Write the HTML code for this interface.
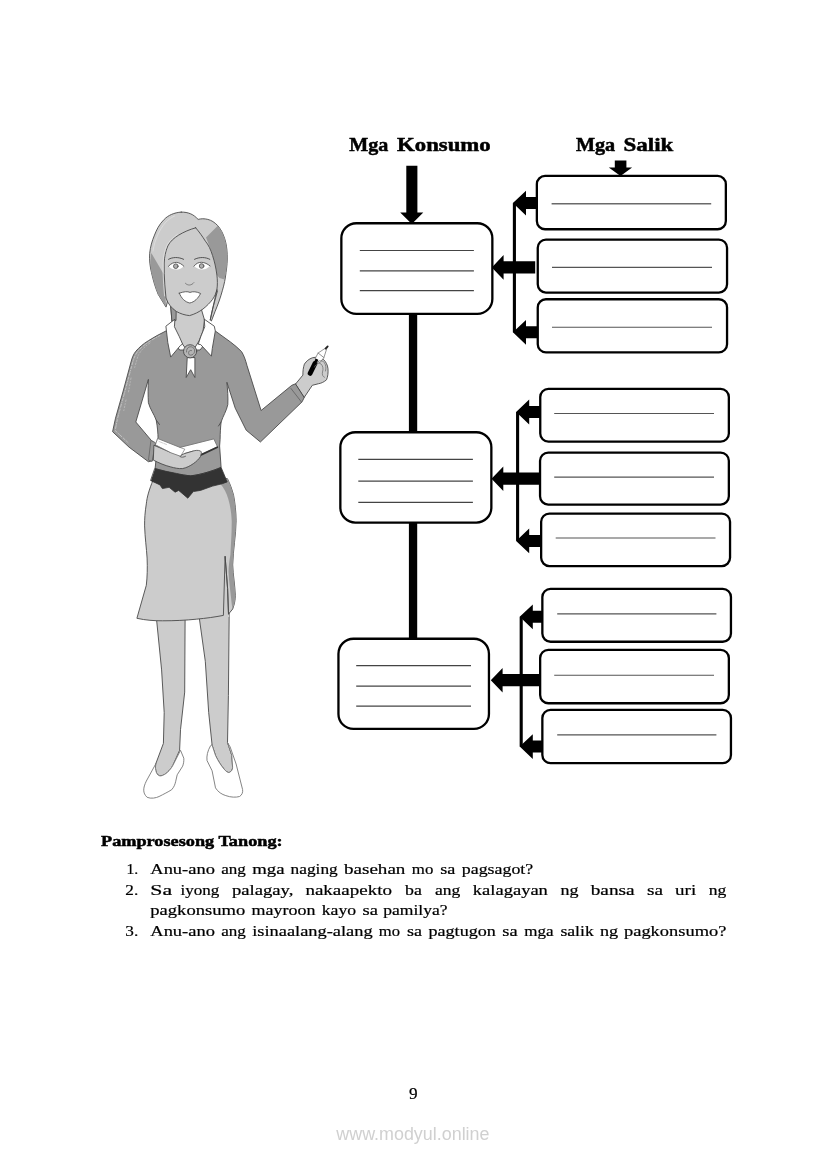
<!DOCTYPE html>
<html><head><meta charset="utf-8"><title>Page 9</title>
<style>html,body{margin:0;padding:0;background:#fff;}body{width:826px;height:1169px;overflow:hidden;font-family:"Liberation Serif",serif;}svg{display:block;will-change:transform;}text{font-family:"Liberation Serif",serif;fill:#000;stroke:#000;stroke-width:0.22px;}.b{stroke-width:0.5px;}.b{font-weight:bold;}.ws{font-family:"Liberation Sans",sans-serif;fill:#d0d0d0;stroke:none;}</style>
</head><body>
<svg width="826" height="1169" viewBox="0 0 826 1169">
<rect width="826" height="1169" fill="#fff"/>
<text x="349.3" y="150.9" font-size="19.4" textLength="39.1" lengthAdjust="spacingAndGlyphs" class="b">Mga</text>
<text x="397.1" y="150.9" font-size="19.4" textLength="93.6" lengthAdjust="spacingAndGlyphs" class="b">Konsumo</text>
<text x="575.9" y="150.9" font-size="19.4" textLength="39.3" lengthAdjust="spacingAndGlyphs" class="b">Mga</text>
<text x="623.5" y="150.9" font-size="19.4" textLength="49.8" lengthAdjust="spacingAndGlyphs" class="b">Salik</text>
<g id="diagram" fill="#000" stroke="none">
<rect x="408.9" y="300" width="8.3" height="341"/>
<polygon points="406.3,165.7 417.4,165.7 417.4,212.6 423.3,212.6 411.8,224 400.2,212.6 406.3,212.6"/>
<polygon points="614.8,160.4 626.4,160.4 626.4,167.6 632.1,167.6 620.5,176 608.8,167.6 614.8,167.6"/>
<rect x="512.85" y="203.1" width="3.1" height="129.2"/>
<polygon points="512.9,203.1 526.0,190.7 526.0,197.1 536.7,197.1 536.7,209.1 526.0,209.1 526.0,215.5"/>
<polygon points="491.8,267.4 503.6,255.1 503.6,261.3 535.2,261.3 535.2,273.5 503.6,273.5 503.6,279.7"/>
<polygon points="512.9,332.3 526.0,319.9 526.0,326.3 537.6,326.3 537.6,338.3 526.0,338.3 526.0,344.7"/>
<rect x="516.05" y="412.0" width="3.1" height="128.9"/>
<polygon points="516.1,412.0 529.2,399.6 529.2,406.0 540.1,406.0 540.1,418.0 529.2,418.0 529.2,424.4"/>
<polygon points="491.5,478.7 503.3,466.4 503.3,472.6 539.4,472.6 539.4,484.8 503.3,484.8 503.3,491.0"/>
<polygon points="516.1,540.9 529.2,528.5 529.2,534.9 541.0,534.9 541.0,546.9 529.2,546.9 529.2,553.3"/>
<rect x="519.65" y="616.8" width="3.1" height="129.8"/>
<polygon points="519.7,616.8 532.8,604.4 532.8,610.8 542.2,610.8 542.2,622.8 532.8,622.8 532.8,629.2"/>
<polygon points="490.8,680.2 502.6,667.9 502.6,674.1 539.5,674.1 539.5,686.3 502.6,686.3 502.6,692.5"/>
<polygon points="519.7,746.6 532.8,734.2 532.8,740.6 542.2,740.6 542.2,752.6 532.8,752.6 532.8,759.0"/>
</g>
<g id="boxes" fill="#fff" stroke="#000" stroke-width="2.3">
<rect x="341.35" y="223.25" width="151.00" height="90.70" rx="15" ry="15"/>
<rect x="340.35" y="432.25" width="151.00" height="90.30" rx="15" ry="15"/>
<rect x="338.45" y="638.75" width="150.50" height="90.20" rx="15" ry="15"/>
<rect x="536.85" y="175.95" width="189.00" height="53.30" rx="8.2" ry="8.2"/>
<rect x="537.75" y="239.55" width="189.30" height="53.00" rx="8.2" ry="8.2"/>
<rect x="537.75" y="299.25" width="189.30" height="53.10" rx="8.2" ry="8.2"/>
<rect x="540.25" y="388.85" width="188.60" height="52.80" rx="8.2" ry="8.2"/>
<rect x="540.05" y="452.65" width="188.80" height="51.90" rx="8.2" ry="8.2"/>
<rect x="541.15" y="513.65" width="188.90" height="52.40" rx="8.2" ry="8.2"/>
<rect x="542.35" y="588.85" width="188.60" height="52.90" rx="8.2" ry="8.2"/>
<rect x="540.15" y="649.85" width="188.70" height="53.40" rx="8.2" ry="8.2"/>
<rect x="542.35" y="709.85" width="188.60" height="53.30" rx="8.2" ry="8.2"/>
</g>
<g id="blanks" stroke="#444" stroke-width="1.2" fill="none">
<line x1="359.8" y1="250.5" x2="473.9" y2="250.5"/>
<line x1="359.8" y1="270.8" x2="473.9" y2="270.8"/>
<line x1="359.8" y1="290.7" x2="473.9" y2="290.7"/>
<line x1="358.3" y1="459.4" x2="472.9" y2="459.4"/>
<line x1="358.3" y1="481.2" x2="472.9" y2="481.2"/>
<line x1="358.3" y1="502.3" x2="472.9" y2="502.3"/>
<line x1="356.2" y1="665.7" x2="471.0" y2="665.7"/>
<line x1="356.2" y1="686.2" x2="471.0" y2="686.2"/>
<line x1="356.2" y1="706.2" x2="471.0" y2="706.2"/>
</g><g stroke="#6a6a6a" stroke-width="1.4" fill="none">
<line x1="551.6" y1="203.8" x2="711.2" y2="203.8"/>
</g><g stroke="#555" stroke-width="1.15" fill="none">
<line x1="552.0" y1="267.3" x2="712.0" y2="267.3"/>
<line x1="552.0" y1="327.2" x2="712.0" y2="327.2"/>
<line x1="554.2" y1="413.5" x2="714.0" y2="413.5"/>
<line x1="554.2" y1="477.1" x2="714.0" y2="477.1"/>
<line x1="555.7" y1="538.0" x2="715.5" y2="538.0"/>
<line x1="557.2" y1="613.9" x2="716.4" y2="613.9"/>
<line x1="554.2" y1="675.2" x2="714.0" y2="675.2"/>
<line x1="557.2" y1="734.8" x2="716.4" y2="734.8"/>
</g>
<g id="woman" stroke="#4a4a4a" stroke-width="0.9" stroke-linejoin="round" stroke-linecap="round">
<!-- legs -->
<path d="M156.5,619 L161.6,669.9 L164.2,712.6 L163.4,743.4 L155.7,764 C154.8,770 156.5,776.2 160.8,775.9 C165.5,775 170,770.5 172.8,765.5 L179.6,750.3 L180.5,729.7 L184.7,692.1 L185.1,619 Z" fill="#cccccc"/>
<path d="M199.3,618 L205.3,661.3 L208.7,712.6 L212.1,745.1 L215.5,755.4 C218,761 221.5,766 224.1,769.1 C226,771.5 228,772.8 229.2,772.5 C231.5,771.5 232.6,769.5 232.6,767.4 L231.8,755.4 L227.5,742.6 L228.4,695.5 L229.2,612 Z" fill="#cccccc"/>
<!-- shoes -->
<path d="M155.7,764 L146.3,781.1 C143,788 142.5,793 147.1,797.3 C151,799 156,798 159.1,796.5 C164,794 168,792 171.7,789.7 C174,787 175,784.5 175.6,781.8 L177.2,774.8 L182.7,766.1 C183.6,763.5 184,761 183.8,758.2 L180.5,750.3 L172.8,765.5 C170,770.5 165.5,775 160.8,775.9 C156.5,776.2 154.8,770 155.7,764 Z" fill="#fff" stroke="#777"/>
<path d="M210.4,746 C207.5,751 206.5,756 207,760.5 L212.1,770.8 L215.5,787.9 C218,792 222,794.5 225.8,795.6 C231,797.5 236,797.5 239.5,796.5 C242,795 243,792.5 242.6,789.6 L236.1,764 L230.1,746.8 L227.5,742.6 L231.8,755.4 L232.6,767.4 C232.6,769.5 231.5,771.5 229.2,772.5 C228,772.8 226,771.5 224.1,769.1 C221.5,766 218,761 215.5,755.4 L212.1,745.1 Z" fill="#fff" stroke="#777"/>
<path d="M224.7,557 L222.5,617 L229.2,617 L229,600 Z" fill="#cccccc" stroke="none"/>
<!-- skirt -->
<path d="M153.1,480 C149,490 147,497 146.3,503.9 C145,512 144.5,519 144.6,525.9 C145,538 146.5,548 147.1,558.1 C147.5,568 147.3,577 146.3,585.3 L136.9,618.3 C146,620.3 154,620.8 162.4,620.8 C174,620.8 186,620.3 196.3,619.2 C206,618.3 215,617 223.4,615.4 L225.1,556.4 L227.6,588.6 L228.5,614.1 L232.7,609 C234.5,604 235.3,600 235.3,595.4 C235,585 233,575 232.7,564.9 C233,550 236,535 236.1,520.8 C236,511 235,503 233.6,495.4 C232,489 230,484 227.6,479 Z" fill="#cccccc"/>
<path d="M220.5,484 C224,488 226.5,493 228.2,498.8 C230.3,506 231.4,513 231.7,520.8 C231.8,532 231,543 230.4,554.7 C229.4,560 228.7,566 228.5,571.7 C229,583 230.8,594 231.9,605.6 L232.7,609 C234.5,604 235.3,600 235.3,595.4 C235,585 233,575 232.7,564.9 C233,550 236,535 236.1,520.8 C236,511 235,503 233.6,495.4 C232,489 230,484 227.6,479 Z" fill="#999999" stroke="none"/>
<path d="M225.1,556.4 L227.6,588.6 L228.5,614.1" fill="none"/>
<!-- neck -->
<path d="M170.5,303 L172,322 L176,334 L181,342 L186,349 L194,349 L199,341 L203,331 L204.5,320 L201,308 Z" fill="#cccccc"/>
<path d="M170.9,305 L176.3,306 L176,320.5 L172.3,321 Z" fill="#999999"/>
<!-- sweater -->
<path d="M165.9,331 C160,334 154,337 148.4,340.7 C143,344 139,347.5 135.8,351.3 C133.5,354 132,358 131,362 L123.2,391 L115.5,418.2 L112.6,431.7 L129.1,447.2 L148.4,461.7 L152.3,460.8 L156.2,444.3 L151.3,440.4 L135.8,422 L148.4,379.4 C148,388 148,396 148.4,402.7 C150,409 154,414 156.2,420.1 C157.5,427 158,433 158.1,439.5 L155.1,468.6 C165,471.5 178,475 190.8,475.8 C200,475 212,471 221.1,467.4 L219.6,446 L220.1,439.5 C220.2,433 220.5,427 221.1,422 C223,416 226.5,411 227.8,404.6 C228.2,397 227.6,390 226.9,382.3 L235.2,408.1 L246.2,430.2 L260.4,442 L302.1,401.8 L304.4,397.1 L295.8,383.7 L291.8,385.3 L261.1,410.5 L247,365.6 C245.5,360 244,355.5 241.5,351.5 C238,348 234.5,345 230.5,342 L215.3,331 L200,350 L180,350 Z" fill="#999999"/>
<path d="M291,388.5 L301.3,401.8" fill="none" stroke="#666"/>
<path d="M156.2,420.1 L159.5,424.5" fill="none"/>
<path d="M221.1,422 L218.5,426" fill="none"/>
<!-- sleeve highlight -->
<path d="M160,335.5 C152,339.5 144,344.5 138.5,350.5 C135.5,354 134,358 132.8,362 L125,391 L117.5,418.5 L115.2,430.5 L128,442.5" fill="none" stroke="#c2c2c2" stroke-width="1" stroke-dasharray="2.2 1.6 0.8 1.4 3 2"/>
<path d="M150,343 C144,347 140,351.5 138,356 L134.5,368 M131,378 L128.5,392 M126,400 L123.5,412" fill="none" stroke="#bcbcbc" stroke-width="0.8" stroke-dasharray="1.5 2.2 0.8 1.8"/>
<!-- belt -->
<path d="M155.1,468.6 C162,470.5 169,472.2 176.3,473.4 C181,474.5 186,475.5 190.8,475.8 C196.5,475.2 202,473.8 207.8,472.2 C212.5,470.8 217,469.2 221.1,467.4 L227.2,481.9 L222.3,483.7 L212.6,486.1 L200.5,490.4 L193.3,491.6 L187.8,498.2 L178.7,490.4 L175.1,492.2 L169.1,487.3 L162.4,488.6 L160,484.9 L150.9,480.7 Z" fill="#333" stroke="#333" stroke-width="0.8"/>
<!-- collar -->
<path d="M174.6,319.4 L165.9,326.2 L167.8,342.6 L170.7,357.1 L180.4,345.5 L182.6,344 L179.4,336.8 L174.6,327.1 Z" fill="#fff"/>
<path d="M204.6,319.4 L214.3,326.2 L215.3,331 L212.3,348.4 L211.4,356.2 L200.7,344.6 L198.2,344.2 L200.7,336.8 L204.6,327.1 Z" fill="#fff"/>
<!-- ribbon + brooch -->
<path d="M187.2,358 L186.2,377.5 L190.7,369.7 L194.9,377.5 L194.9,358 Z" fill="#fff"/>
<circle cx="190.1" cy="351.3" r="6.6" fill="#b4b4b4"/>
<path d="M186.5,352 C186,347 191,345 194,348.5 C196,352 193,356 189.5,355 C187.5,353 189,349.5 191.5,350.5" fill="none" stroke="#666" stroke-width="0.8"/>
<!-- hair base -->
<path d="M181.2,212.1 C174,212.5 168,215.5 164.2,219.4 C159,224.5 156.5,230 154.5,235.1 C152,241 150.3,247 149.7,253.3 C149.2,260 150,266.5 151.5,272.6 C153.2,280.5 155.5,288 158.2,294.4 L166,307.1 L168,300 L200,300 L217.5,290.8 L212.6,309 L210.2,319.9 L211.4,321 L215.1,311.4 C218,304.5 220.5,297.5 222.3,290.8 C224.2,284.5 225.4,278.5 226,272.6 C227,266.5 227.4,260.5 227.2,254.5 C227,248.5 226.2,243.5 224.7,238.7 C223,233.5 220.8,229 217.5,225.4 C214.5,222.3 211.5,220.3 207.8,219.4 C204.5,218.5 201,218.6 198.1,219.4 C195.8,217 193.5,215 190.8,213.9 C187.8,212.6 184.5,212 181.2,212.1 Z" fill="#cccccc"/>
<!-- hair dark parts -->
<path d="M151.3,253 L164.2,275 L164.8,284.7 L166,307.1 L158.2,294.4 C155.5,288 153.2,280.5 151.5,272.6 C150.3,266.5 150,260 151.3,253 Z" fill="#999999" stroke="none"/>
<path d="M217.5,226 C220.8,229 223,233.5 224.7,238.7 C226.2,243.5 227,248.5 227.2,254.5 C227.4,260.5 227,266.5 226,272.6 L224.5,279.5 L219.5,278 L216.9,275.1 C216,268 214.5,261.5 212.6,255.7 C210.7,249.5 208.5,243.5 206,237.5 Z" fill="#999999" stroke="none"/>
<!-- face -->
<path d="M195.7,227.8 C189.5,229.5 183.8,232 178.7,235.1 C174,238 170,241.5 167.8,246 C165.5,251.5 164.4,257 164.2,263 C164,270 164.3,277.5 164.8,284.7 L166,298 C168,304 171.5,308 176.3,311.4 C180.5,313.8 185,315.2 189.6,315.6 C194.5,314.2 199,312 203,309 C206.8,306 210,302.8 212.6,299.3 C214.8,296 216.2,293 216.9,289.6 C217.6,285 217.5,280 216.9,275.1 C216,268 214.5,261.5 212.6,255.7 C210.7,249.5 208.3,244.5 205.4,241.2 C202.5,236.5 199.3,232 195.7,227.8 Z" fill="#cccccc"/>
<path d="M216.9,289.6 L212.6,309 L210.2,319.9" fill="none"/>
<!-- hair highlights -->
<path d="M153,251 C153.8,245 155.5,240 157.5,235.5 C159.5,231 162,226.5 165.5,222.5 C168,220 171,217.5 174.5,216" fill="none" stroke="#dedede" stroke-width="0.9"/>
<path d="M177.5,234.3 C173,237.3 169.3,240.8 166.8,245.5 C164.5,251 163.3,257 163.1,263 C162.9,270 163.2,277.5 163.7,284.7 L164.6,296" fill="none" stroke="#e2e2e2" stroke-width="0.8"/>
<!-- eyes -->
<path d="M168.8,266.5 C171,263.5 174,262.5 176.5,262.6 C179.5,262.8 182,264.5 183.6,266.5 C181,268.8 178.5,269.6 176,269.6 C173,269.5 170.5,268.3 168.8,266.5 Z" fill="#fff" stroke="none"/>
<path d="M168.4,266.3 C171,263.3 174,262.3 176.5,262.4 C179.5,262.6 182,264.3 183.9,266.3" fill="none" stroke="#555" stroke-width="0.9"/>
<path d="M194.2,266.3 C196,263.5 198.8,262.5 201.5,262.5 C204.5,262.6 207.5,264 209.8,266 C207.5,268.5 205,269.5 202,269.6 C199,269.5 196.3,268.3 194.2,266.3 Z" fill="#fff" stroke="none"/>
<path d="M193.9,266.2 C196,263.3 198.8,262.3 201.5,262.3 C204.5,262.4 207.5,263.8 210.1,265.9" fill="none" stroke="#555" stroke-width="0.9"/>
<circle cx="175.8" cy="266.2" r="2.3" fill="#b0b0b0" stroke="#555" stroke-width="0.9"/>
<circle cx="201.6" cy="266" r="2.3" fill="#b0b0b0" stroke="#555" stroke-width="0.9"/>
<path d="M168.6,259.3 C172.5,257 178.5,256.8 183.6,259.3" fill="none" stroke="#444" stroke-width="0.9"/>
<path d="M194.5,259.3 C199.5,256.8 205.5,257 209.8,259.3" fill="none" stroke="#444" stroke-width="0.9"/>
<!-- nose -->
<path d="M185.4,283.3 C187.5,285.8 191.5,285.8 193.9,282.6" fill="none" stroke="#777"/>
<!-- mouth -->
<path d="M179.3,293.2 C184,291.5 187.5,291.2 190,292.4 C193,291.2 196.5,291.6 200.6,293.5 C198,298.5 194.5,302 189.8,303 C185,302 181.5,298.5 179.3,293.2 Z" fill="#fff" stroke="#555" stroke-width="0.9"/>
<!-- right hand + marker -->
<path d="M295.8,383.7 L302.9,375.1 C302.8,371 303.3,367.5 304.4,364.1 C306.5,361 309,359 312.3,357.8 C316,356.8 320,357.3 323.3,359.3 C326,361.8 327.6,365 328,368.8 C328.3,373 327.8,376.8 326.5,379.8 C324,382 321.5,383.2 318.6,383.7 L312.3,385.3 L304.4,397.1 Z" fill="#cccccc"/>
<path d="M315.2,358.5 L318.1,353 L327.3,346.9 L323.9,357.6 L320,362.5 Z" fill="#fff" stroke="#666" stroke-width="0.7"/>
<path d="M318.1,353 L323.9,357.6" fill="none" stroke="#666" stroke-width="0.7"/>
<path d="M325.6,348.6 L327.7,346.4" stroke="#222" stroke-width="1.8" fill="none"/>
<path d="M310.1,373.4 L315,363.4" stroke="#000" stroke-width="4.8" fill="none" stroke-linecap="round"/>
<path d="M315,363.4 L317,359.2" stroke="#000" stroke-width="2.8" fill="none" stroke-linecap="butt"/>
<path d="M314.5,367 C316,363.5 319,362.5 321,364 C323,366 323.5,369 322.5,372 C322,374.5 322.5,376.5 324.5,377.3 M317,362 C319.5,360 322.5,360.5 324.3,362.5 C326,365 326.3,368 325.5,371" fill="none" stroke="#666" stroke-width="0.7"/>
<!-- left hand + book -->
<path d="M155.5,443.2 L152.1,461.3 L148.5,460.1 L150.9,440.7 Z" fill="#999999" stroke="#666"/>
<path d="M153.9,445.6 L153.3,460.1 C159,463 165,465.5 170.3,466.8 C174.5,468 178.5,468.8 182.4,468.6 C186.5,467.8 190,466 193.3,463.7 C196.5,461.5 199,459 200.5,456.5 C201.8,454.5 201.8,452 200.5,451 C198,450 195.5,450.3 193.3,451 L184.8,453.5 L170,452 Z" fill="#cccccc"/>
<path d="M157.9,438.6 L180,447.4 L213.8,438.9 L217.5,446.8 L200.8,455 L193.3,451 L184.8,453.5 L180.6,456.3 L170.9,452.8 L155.7,445 Z" fill="#fff" stroke="#777"/>
<path d="M180,447.4 L184.8,449.2 L180.6,456.3" fill="none" stroke="#777" stroke-width="0.7"/>
<path d="M201.5,454.6 L217.3,447.2" stroke="#333" stroke-width="1.8" fill="none"/>
<path d="M159,441.5 l4,1.6 m1,0.4 l2.5,1" stroke="#bbb" stroke-width="0.7" fill="none"/>
<path d="M200.8,455 C201.8,453.5 201.6,451.8 200.5,451 C198,450 195.5,450.3 193.3,451 L184.8,453.5 C182.5,454.3 181,455.3 180,456.5 C181.5,457.6 183.5,457.3 185.5,456.3" fill="#cccccc" stroke="#4a4a4a" stroke-width="0.8"/>
</g>

<text x="101.0" y="845.5" font-size="15.6" textLength="181.6" lengthAdjust="spacingAndGlyphs" class="b">Pamprosesong Tanong:</text>
<text x="126.5" y="873.9" font-size="15.6" textLength="11.7" lengthAdjust="spacingAndGlyphs">1.</text>
<text x="150.3" y="873.9" font-size="15.6" textLength="64.6" lengthAdjust="spacingAndGlyphs">Anu-ano</text>
<text x="221.2" y="873.9" font-size="15.6" textLength="24.6" lengthAdjust="spacingAndGlyphs">ang</text>
<text x="252.2" y="873.9" font-size="15.6" textLength="32.3" lengthAdjust="spacingAndGlyphs">mga</text>
<text x="290.6" y="873.9" font-size="15.6" textLength="47.1" lengthAdjust="spacingAndGlyphs">naging</text>
<text x="344.0" y="873.9" font-size="15.6" textLength="61.4" lengthAdjust="spacingAndGlyphs">basehan</text>
<text x="411.8" y="873.9" font-size="15.6" textLength="21.5" lengthAdjust="spacingAndGlyphs">mo</text>
<text x="440.2" y="873.9" font-size="15.6" textLength="15.1" lengthAdjust="spacingAndGlyphs">sa</text>
<text x="461.8" y="873.9" font-size="15.6" textLength="71.4" lengthAdjust="spacingAndGlyphs">pagsagot?</text>
<text x="125.3" y="894.6" font-size="15.6" textLength="12.9" lengthAdjust="spacingAndGlyphs">2.</text>
<text x="150.3" y="894.6" font-size="15.6" textLength="21.8" lengthAdjust="spacingAndGlyphs">Sa</text>
<text x="180.5" y="894.6" font-size="15.6" textLength="38.8" lengthAdjust="spacingAndGlyphs">iyong</text>
<text x="231.9" y="894.6" font-size="15.6" textLength="61.4" lengthAdjust="spacingAndGlyphs">palagay,</text>
<text x="305.4" y="894.6" font-size="15.6" textLength="86.6" lengthAdjust="spacingAndGlyphs">nakaapekto</text>
<text x="405.0" y="894.6" font-size="15.6" textLength="16.8" lengthAdjust="spacingAndGlyphs">ba</text>
<text x="435.0" y="894.6" font-size="15.6" textLength="25.3" lengthAdjust="spacingAndGlyphs">ang</text>
<text x="472.8" y="894.6" font-size="15.6" textLength="75.1" lengthAdjust="spacingAndGlyphs">kalagayan</text>
<text x="560.4" y="894.6" font-size="15.6" textLength="18.0" lengthAdjust="spacingAndGlyphs">ng</text>
<text x="590.7" y="894.6" font-size="15.6" textLength="43.9" lengthAdjust="spacingAndGlyphs">bansa</text>
<text x="647.0" y="894.6" font-size="15.6" textLength="16.0" lengthAdjust="spacingAndGlyphs">sa</text>
<text x="675.1" y="894.6" font-size="15.6" textLength="21.1" lengthAdjust="spacingAndGlyphs">uri</text>
<text x="708.8" y="894.6" font-size="15.6" textLength="17.6" lengthAdjust="spacingAndGlyphs">ng</text>
<text x="150.3" y="915.3" font-size="15.6" textLength="94.9" lengthAdjust="spacingAndGlyphs">pagkonsumo</text>
<text x="251.6" y="915.3" font-size="15.6" textLength="63.8" lengthAdjust="spacingAndGlyphs">mayroon</text>
<text x="321.7" y="915.3" font-size="15.6" textLength="34.4" lengthAdjust="spacingAndGlyphs">kayo</text>
<text x="362.5" y="915.3" font-size="15.6" textLength="15.4" lengthAdjust="spacingAndGlyphs">sa</text>
<text x="383.2" y="915.3" font-size="15.6" textLength="64.3" lengthAdjust="spacingAndGlyphs">pamilya?</text>
<text x="125.3" y="935.9" font-size="15.6" textLength="12.9" lengthAdjust="spacingAndGlyphs">3.</text>
<text x="150.3" y="935.9" font-size="15.6" textLength="64.6" lengthAdjust="spacingAndGlyphs">Anu-ano</text>
<text x="221.2" y="935.9" font-size="15.6" textLength="24.6" lengthAdjust="spacingAndGlyphs">ang</text>
<text x="252.2" y="935.9" font-size="15.6" textLength="120.4" lengthAdjust="spacingAndGlyphs">isinaalang-alang</text>
<text x="378.8" y="935.9" font-size="15.6" textLength="21.2" lengthAdjust="spacingAndGlyphs">mo</text>
<text x="407.0" y="935.9" font-size="15.6" textLength="15.0" lengthAdjust="spacingAndGlyphs">sa</text>
<text x="428.5" y="935.9" font-size="15.6" textLength="67.3" lengthAdjust="spacingAndGlyphs">pagtugon</text>
<text x="502.3" y="935.9" font-size="15.6" textLength="15.3" lengthAdjust="spacingAndGlyphs">sa</text>
<text x="524.3" y="935.9" font-size="15.6" textLength="29.3" lengthAdjust="spacingAndGlyphs">mga</text>
<text x="560.4" y="935.9" font-size="15.6" textLength="33.4" lengthAdjust="spacingAndGlyphs">salik</text>
<text x="600.0" y="935.9" font-size="15.6" textLength="18.2" lengthAdjust="spacingAndGlyphs">ng</text>
<text x="624.0" y="935.9" font-size="15.6" textLength="102.4" lengthAdjust="spacingAndGlyphs">pagkonsumo?</text>
<text x="408.9" y="1098.9" font-size="17.2" stroke="#000" stroke-width="0.1">9</text>
<text x="336.3" y="1139.8" font-size="17.5" textLength="153.2" lengthAdjust="spacingAndGlyphs" class="ws">www.modyul.online</text>
</svg></body></html>
